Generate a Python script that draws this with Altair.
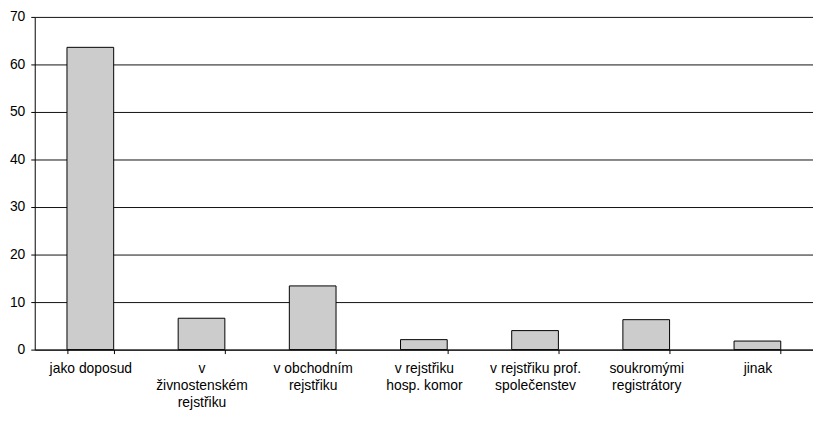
import altair as alt
import pandas as pd

categories = [
    "jako doposud",
    "v\nživnostenském\nrejstřiku",
    "v obchodním\nrejstřiku",
    "v rejstřiku\nhosp. komor",
    "v rejstřiku prof.\nspolečenstev",
    "soukromými\nregistrátory",
    "jinak",
]
values = [63.6, 6.6, 13.4, 2.1, 4.0, 6.3, 1.8]

df = pd.DataFrame({"cat": categories, "val": values})

chart = alt.Chart(df).mark_bar(
    color="#cccccc", stroke="#000000", strokeWidth=1
).encode(
    x=alt.X("cat:N", sort=categories, title=None,
            scale=alt.Scale(paddingInner=0.58, paddingOuter=0.29),
            axis=alt.Axis(labelAngle=0, labelExpr="split(datum.label, '\\n')",
                          tickBand="extent", tickSize=4, labelPadding=8,
                          labelFont="Liberation Sans", labelFontSize=14,
                          labelColor="#000", domainColor="#000", tickColor="#000",
                          labelLineHeight=17, labelLimit=200, grid=False)),
    y=alt.Y("val:Q", title=None,
            scale=alt.Scale(domain=[0, 70], nice=False),
            axis=alt.Axis(values=[0, 10, 20, 30, 40, 50, 60, 70], tickSize=4,
                          labelPadding=6, labelFont="Liberation Sans", labelFontSize=14,
                          labelColor="#000", domainColor="#000", tickColor="#000",
                          gridColor="#111", gridOpacity=1, grid=True)),
).properties(
    width=786, height=336,
    autosize=alt.AutoSizeParams(type="none"),
    padding={"left": 27, "top": 7, "right": 0, "bottom": 60},
).configure_view(stroke=None)

chart.save("out.html", embed_options={"renderer": "svg", "actions": False})
